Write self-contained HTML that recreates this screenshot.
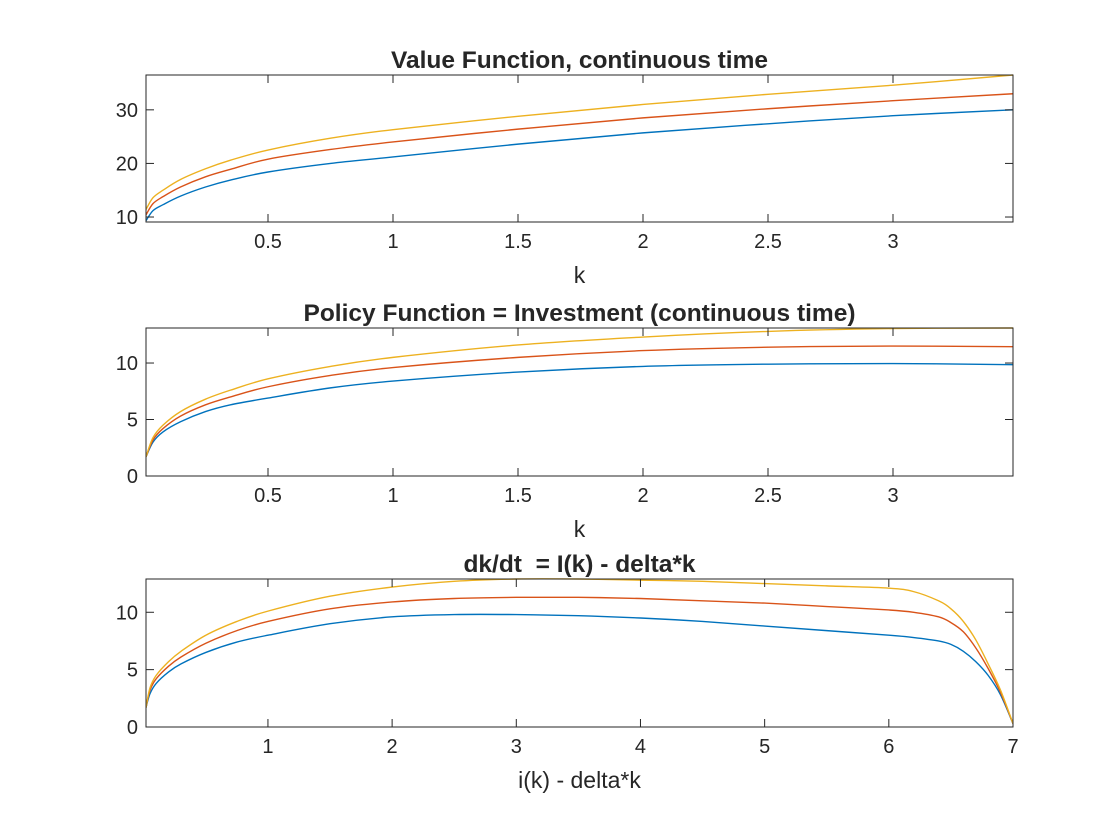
<!DOCTYPE html>
<html><head><meta charset="utf-8"><style>
html,body{margin:0;padding:0;background:#fff}
svg{display:block}
text{font-family:"Liberation Sans",Arial,sans-serif;fill:#262626;white-space:pre}
</style></head><body>
<svg id="fig" width="1120" height="840" viewBox="0 0 1120 840"></svg>
<script>
// ---------- data ----------
const k1 = [0.012,0.04,0.08,0.15,0.25,0.35,0.5,0.75,1,1.5,2,2.5,3,3.48];
const v1Blue   = [9.3,11.2,12.3,13.9,15.6,16.9,18.4,20.0,21.2,23.6,25.7,27.4,28.9,30.0];
const v1Red    = [10.4,12.5,13.8,15.6,17.5,18.9,20.8,22.6,24.0,26.4,28.5,30.2,31.7,33.0];
const v1Yellow = [11.4,13.6,15.0,17.0,19.0,20.6,22.5,24.7,26.3,28.8,31.0,32.9,34.6,36.5];
const y1Ticks = [10,20,30];
const x1Ticks = [0.5,1,1.5,2,2.5,3];

const k2 = [0.012,0.04,0.08,0.15,0.25,0.35,0.5,0.75,1,1.5,2,2.5,3,3.48];
const p2Blue   = [1.7,3.0,3.9,4.8,5.7,6.3,6.9,7.8,8.4,9.2,9.7,9.9,9.95,9.85];
const p2Red    = [1.7,3.2,4.2,5.3,6.3,7.0,7.9,8.9,9.6,10.5,11.1,11.4,11.5,11.45];
const p2Yellow = [1.7,3.4,4.5,5.7,6.8,7.6,8.6,9.7,10.5,11.6,12.3,12.8,13.05,13.1];
const y2Ticks = [0,5,10];
const x2Ticks = [0.5,1,1.5,2,2.5,3];

const x3 = [0.018,0.05,0.1,0.2,0.3,0.5,0.75,1,1.5,2,2.5,3,3.5,4,4.5,5,5.5,6,6.2,6.4,6.5,6.6,6.7,6.8,6.9,7];
const d3Blue   = [1.7,2.9,3.8,4.8,5.5,6.5,7.4,8.0,9.0,9.6,9.8,9.8,9.7,9.5,9.2,8.8,8.4,8.0,7.8,7.5,7.2,6.6,5.7,4.5,2.8,0.3];
const d3Red    = [1.7,3.2,4.2,5.3,6.1,7.3,8.4,9.2,10.3,10.9,11.2,11.3,11.3,11.2,11.0,10.8,10.5,10.2,10.0,9.6,9.1,8.3,6.9,5.1,3.0,0.3];
const d3Yellow = [1.7,3.4,4.5,5.7,6.6,8.0,9.2,10.1,11.4,12.2,12.7,12.9,12.9,12.8,12.7,12.5,12.3,12.1,11.8,11.0,10.3,9.2,7.6,5.5,3.2,0.3];
const y3Ticks = [0,5,10];
const x3Ticks = [1,2,3,4,5,6,7];

const NS="http://www.w3.org/2000/svg";
const svg=document.getElementById('fig');
function mk(tag,attrs,parent){const e=document.createElementNS(NS,tag);for(const a in attrs)e.setAttribute(a,attrs[a]);(parent||svg).appendChild(e);return e;}
const colors=['#0072BD','#D95319','#EDB120'];
const names=['blue','red','yellow'];

function smoothPath(P){
  let d='M'+P[0][0].toFixed(2)+','+P[0][1].toFixed(2);
  for(let i=0;i<P.length-1;i++){
    const p0=P[i-1]||P[i],p1=P[i],p2=P[i+1],p3=P[i+2]||P[i+1];
    const t=1/6;
    const c1=[p1[0]+(p2[0]-p0[0])*t,p1[1]+(p2[1]-p0[1])*t];
    const c2=[p2[0]-(p3[0]-p1[0])*t,p2[1]-(p3[1]-p1[1])*t];
    d+=' C'+c1.map(v=>v.toFixed(2)).join(',')+' '+c2.map(v=>v.toFixed(2)).join(',')+' '+p2.map(v=>v.toFixed(2)).join(',');
  }
  return d;
}

function panel(id,top,bottom,xmin,xmax,ymin,ymax,xs,series,xt,yt,title,xlabel){
  const L=146,R=1013;
  const g=mk('g',{});
  
  
  const sx=v=>L+(v-xmin)/(xmax-xmin)*(R-L);
  const sy=v=>bottom-(v-ymin)/(ymax-ymin)*(bottom-top);
  const cp=mk('clipPath',{id:id+'-clip'},g);
  mk('rect',{x:L,y:top-1,width:R-L,height:bottom-top+2},cp);
  series.forEach((s,i)=>{
    const P=xs.map((x,j)=>[sx(x),sy(s[j])]);
    const pl=mk('path',{d:smoothPath(P),fill:'none',stroke:colors[i],'stroke-width':1.4,'stroke-linejoin':'round','clip-path':'url(#'+id+'-clip)'},g);
    
    
  });
  const box=mk('rect',{x:L,y:top,width:R-L,height:bottom-top,fill:'none',stroke:'#262626','stroke-width':1},g);
  
  
  xt.forEach(t=>{
    const x=sx(t);
    mk('line',{x1:x,x2:x,y1:bottom,y2:bottom-8,stroke:'#262626'},g);
    mk('line',{x1:x,x2:x,y1:top,y2:top+8,stroke:'#262626'},g);
    const tx=mk('text',{x:x,y:bottom+26,'text-anchor':'middle','font-size':20},g);
    tx.textContent=String(t);
    
    
  });
  yt.forEach(t=>{
    const y=sy(t);
    mk('line',{x1:L,x2:L+8,y1:y,y2:y,stroke:'#262626'},g);
    mk('line',{x1:R,x2:R-8,y1:y,y2:y,stroke:'#262626'},g);
    const tx=mk('text',{x:L-8,y:y+7,'text-anchor':'end','font-size':20},g);
    tx.textContent=String(t);
    
    
  });
  const tt=mk('text',{x:(L+R)/2,y:top-7,'text-anchor':'middle','font-size':24.5,'font-weight':'bold',fill:'#000'},g);
  tt.textContent=title;
  
  
  if(xlabel){
    const xl=mk('text',{x:(L+R)/2,y:bottom+61,'text-anchor':'middle','font-size':23},g);
    xl.textContent=xlabel;
    
    
  }
}
panel('value-function',75,222,0.012,3.48,9.07,36.5,k1,[v1Blue,v1Red,v1Yellow],x1Ticks,y1Ticks,'Value Function, continuous time','k');
panel('policy-function',328,476,0.012,3.48,0,13.1,k2,[p2Blue,p2Red,p2Yellow],x2Ticks,y2Ticks,'Policy Function = Investment (continuous time)','k');
panel('dkdt',579,727,0.018,7,0,12.9,x3,[d3Blue,d3Red,d3Yellow],x3Ticks,y3Ticks,'dk/dt  = I(k) - delta*k','i(k) - delta*k');
</script>
</body></html>
